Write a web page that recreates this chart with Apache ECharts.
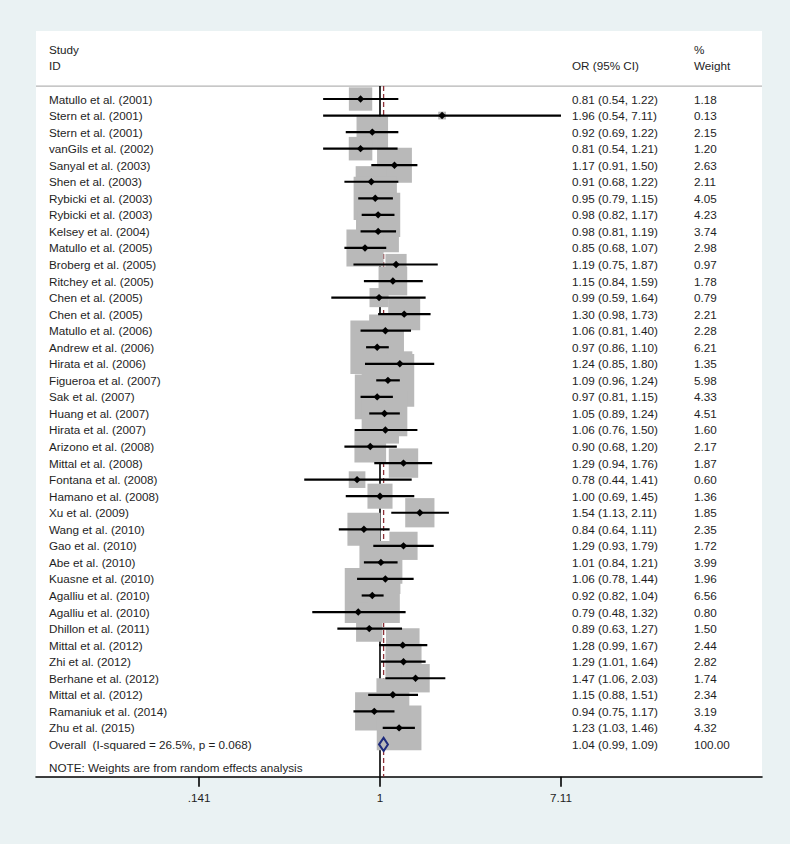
<!DOCTYPE html>
<html>
<head>
<meta charset="utf-8">
<script src="https://cdn.jsdelivr.net/npm/echarts@6/dist/echarts.min.js"></script>
<style>
html,body{margin:0;padding:0;background:#eaf2f3;}
#c{width:790px;height:844px;}
</style>
</head>
<body>
<div id="c"></div>
<script>
// ---------------- DATA ----------------
const studies = [
  "Matullo et al. (2001)", "Stern et al. (2001)", "Stern et al. (2001)", "vanGils et al. (2002)",
  "Sanyal et al. (2003)", "Shen et al. (2003)", "Rybicki et al. (2003)", "Rybicki et al. (2003)",
  "Kelsey et al. (2004)", "Matullo et al. (2005)", "Broberg et al. (2005)", "Ritchey et al. (2005)",
  "Chen et al. (2005)", "Chen et al. (2005)", "Matullo et al. (2006)", "Andrew et al. (2006)",
  "Hirata et al. (2006)", "Figueroa et al. (2007)", "Sak et al. (2007)", "Huang et al. (2007)",
  "Hirata et al. (2007)", "Arizono et al. (2008)", "Mittal et al. (2008)", "Fontana et al. (2008)",
  "Hamano et al. (2008)", "Xu et al. (2009)", "Wang et al. (2010)", "Gao et al. (2010)",
  "Abe et al. (2010)", "Kuasne et al. (2010)", "Agalliu et al. (2010)", "Agalliu et al. (2010)",
  "Dhillon et al. (2011)", "Mittal et al. (2012)", "Zhi et al. (2012)", "Berhane et al. (2012)",
  "Mittal et al. (2012)", "Ramaniuk et al. (2014)", "Zhu et al. (2015)"
];
const oddsRatios = [0.81,1.96,0.92,0.81,1.17,0.91,0.95,0.98,0.98,0.85,1.19,1.15,0.99,1.30,1.06,0.97,1.24,1.09,0.97,1.05,1.06,0.90,1.29,0.78,1.00,1.54,0.84,1.29,1.01,1.06,0.92,0.79,0.89,1.28,1.29,1.47,1.15,0.94,1.23];
const lowerCI    = [0.54,0.54,0.69,0.54,0.91,0.68,0.79,0.82,0.81,0.68,0.75,0.84,0.59,0.98,0.81,0.86,0.85,0.96,0.81,0.89,0.76,0.68,0.94,0.44,0.69,1.13,0.64,0.93,0.84,0.78,0.82,0.48,0.63,0.99,1.01,1.06,0.88,0.75,1.03];
const upperCI    = [1.22,7.11,1.22,1.21,1.50,1.22,1.15,1.17,1.19,1.07,1.87,1.59,1.64,1.73,1.40,1.10,1.80,1.24,1.15,1.24,1.50,1.20,1.76,1.41,1.45,2.11,1.11,1.79,1.21,1.44,1.04,1.32,1.27,1.67,1.64,2.03,1.51,1.17,1.46];
const weights    = [1.18,0.13,2.15,1.20,2.63,2.11,4.05,4.23,3.74,2.98,0.97,1.78,0.79,2.21,2.28,6.21,1.35,5.98,4.33,4.51,1.60,2.17,1.87,0.60,1.36,1.85,2.35,1.72,3.99,1.96,6.56,0.80,1.50,2.44,2.82,1.74,2.34,3.19,4.32];
const overallLabel = "Overall  (I-squared = 26.5%, p = 0.068)";
const overallOR = 1.04, overallLower = 0.99, overallUpper = 1.09, overallWeight = 100.00;
const noteText = "NOTE: Weights are from random effects analysis";
const headerLeft = ["Study", "ID"];
const headerOR = "OR (95% CI)";
const headerWeight = ["%", "Weight"];
const tickValues = [0.141, 1, 7.11];
const tickLabels = [".141", "1", "7.11"];

// ---------------- LAYOUT ----------------
const FONT = "'Liberation Sans', Arial, sans-serif";
const FS = 11.7;
const TXT = '#1e1e1e';
const COL_STUDY = 49, COL_OR = 572, COL_W = 694;
const BOX_K = 21.5;
const Y_MIN = -4.11, Y_MAX = 40.95;
const X_MIN = -3.728, X_MAX = 4.140;
const SEP_ROW = -0.785, NOTE_ROW = 40.42, OVERALL_ROW = studies.length;

const fmt2 = v => v.toFixed(2);
const studyData = studies.map((s, i) => [i, Math.log(oddsRatios[i]), Math.log(lowerCI[i]), Math.log(upperCI[i]), weights[i]]);

function txt(x, y, s) {
  return {type: 'text', x: x, y: y, style: {text: s, x: 0, y: 0, fill: TXT, fontSize: FS, fontFamily: FONT, verticalAlign: 'middle', align: 'left'}};
}

const chart = echarts.init(document.getElementById('c'), null, {renderer: 'svg'});
chart.setOption({
  backgroundColor: '#eaf2f3',
  animation: false,
  grid: {left: 36, right: 28, top: 31, bottom: 67.3, show: true, backgroundColor: '#ffffff', borderWidth: 0},
  xAxis: {
    type: 'value', min: X_MIN, max: X_MAX, position: 'bottom',
    axisLine: {show: true, onZero: false, lineStyle: {color: '#000', width: 1.6}},
    axisTick: {show: true, length: 10, customValues: tickValues.map(Math.log), lineStyle: {color: '#000', width: 1.6}},
    axisLabel: {
      show: true, customValues: tickValues.map(Math.log), margin: 15, fontSize: FS, fontFamily: FONT, color: TXT,
      formatter: v => { const k = tickValues.findIndex(t => Math.abs(Math.log(t) - v) < 1e-6); return k >= 0 ? tickLabels[k] : ''; }
    },
    splitLine: {show: false}
  },
  yAxis: {type: 'value', inverse: true, min: Y_MIN, max: Y_MAX, show: false, splitLine: {show: false}},
  series: [
    { // reference lines + separator
      type: 'custom', z: 1, silent: true,
      data: [[OVERALL_ROW, Math.log(overallOR)]],
      renderItem: (params, api) => {
        const lnO = api.value(1);
        const sL = api.coord([X_MIN, SEP_ROW]), sR = api.coord([X_MAX, SEP_ROW]);
        const n1 = api.coord([0, SEP_ROW]), n2 = api.coord([0, Y_MAX]);
        const d1 = api.coord([lnO, SEP_ROW]), d2 = api.coord([lnO, Y_MAX]);
        return {type: 'group', children: [
          {type: 'line', shape: {x1: sL[0], y1: sL[1], x2: sR[0], y2: sR[1]}, style: {stroke: '#b4b4b4', lineWidth: 1.2}},
          {type: 'line', shape: {x1: n1[0], y1: n1[1], x2: n2[0], y2: n2[1]}, style: {stroke: '#000', lineWidth: 1.6}},
          {type: 'line', shape: {x1: d1[0], y1: d1[1], x2: d2[0], y2: d2[1]}, style: {stroke: '#8c2f36', lineWidth: 1.3, lineDash: [5, 3]}}
        ]};
      }
    },
    { // weight boxes
      type: 'custom', z: 2, silent: true, clip: false,
      data: studyData,
      renderItem: (params, api) => {
        const c = api.coord([api.value(1), api.value(0)]);
        const s = BOX_K * Math.sqrt(api.value(4));
        return {type: 'rect', shape: {x: c[0] - s / 2, y: c[1] - s / 2, width: s, height: s}, style: {fill: '#b9b9b9'}};
      }
    },
    { // CI lines + point markers
      type: 'custom', z: 3, silent: true, clip: false,
      data: studyData,
      renderItem: (params, api) => {
        const y = api.value(0);
        const p = api.coord([api.value(1), y]);
        const a = api.coord([api.value(2), y]), b = api.coord([api.value(3), y]);
        const h = 3.7;
        return {type: 'group', children: [
          {type: 'line', shape: {x1: a[0], y1: a[1], x2: b[0], y2: b[1]}, style: {stroke: '#000', lineWidth: 2.2}},
          {type: 'polygon', shape: {points: [[p[0] - h, p[1]], [p[0], p[1] - h], [p[0] + h, p[1]], [p[0], p[1] + h]]}, style: {fill: '#000'}}
        ]};
      }
    },
    { // overall diamond
      type: 'custom', z: 4, silent: true, clip: false,
      data: [[OVERALL_ROW, Math.log(overallOR), Math.log(overallLower), Math.log(overallUpper)]],
      renderItem: (params, api) => {
        const y = api.value(0);
        const p = api.coord([api.value(1), y]);
        const a = api.coord([api.value(2), y]), b = api.coord([api.value(3), y]);
        const h = 6.6;
        return {type: 'polygon', shape: {points: [[a[0], a[1]], [p[0], p[1] - h], [b[0], b[1]], [p[0], p[1] + h]]}, style: {fill: 'none', stroke: '#1d2a7c', lineWidth: 2}};
      }
    },
    { // text columns
      type: 'custom', z: 5, silent: true, clip: false,
      data: [[0]],
      renderItem: (params, api) => {
        const Y = r => api.coord([0, r])[1];
        const ch = [];
        ch.push(txt(COL_STUDY, Y(-3), headerLeft[0]));
        ch.push(txt(COL_STUDY, Y(-2), headerLeft[1]));
        ch.push(txt(COL_OR, Y(-2), headerOR));
        ch.push(txt(COL_W, Y(-3), headerWeight[0]));
        ch.push(txt(COL_W, Y(-2), headerWeight[1]));
        studies.forEach((s, i) => {
          ch.push(txt(COL_STUDY, Y(i), s));
          ch.push(txt(COL_OR, Y(i), fmt2(oddsRatios[i]) + ' (' + fmt2(lowerCI[i]) + ', ' + fmt2(upperCI[i]) + ')'));
          ch.push(txt(COL_W, Y(i), fmt2(weights[i])));
        });
        ch.push(txt(COL_STUDY, Y(OVERALL_ROW), overallLabel));
        ch.push(txt(COL_OR, Y(OVERALL_ROW), fmt2(overallOR) + ' (' + fmt2(overallLower) + ', ' + fmt2(overallUpper) + ')'));
        ch.push(txt(COL_W, Y(OVERALL_ROW), fmt2(overallWeight)));
        ch.push(txt(COL_STUDY, Y(NOTE_ROW), noteText));
        return {type: 'group', children: ch};
      }
    }
  ]
});
</script>
</body>
</html>
